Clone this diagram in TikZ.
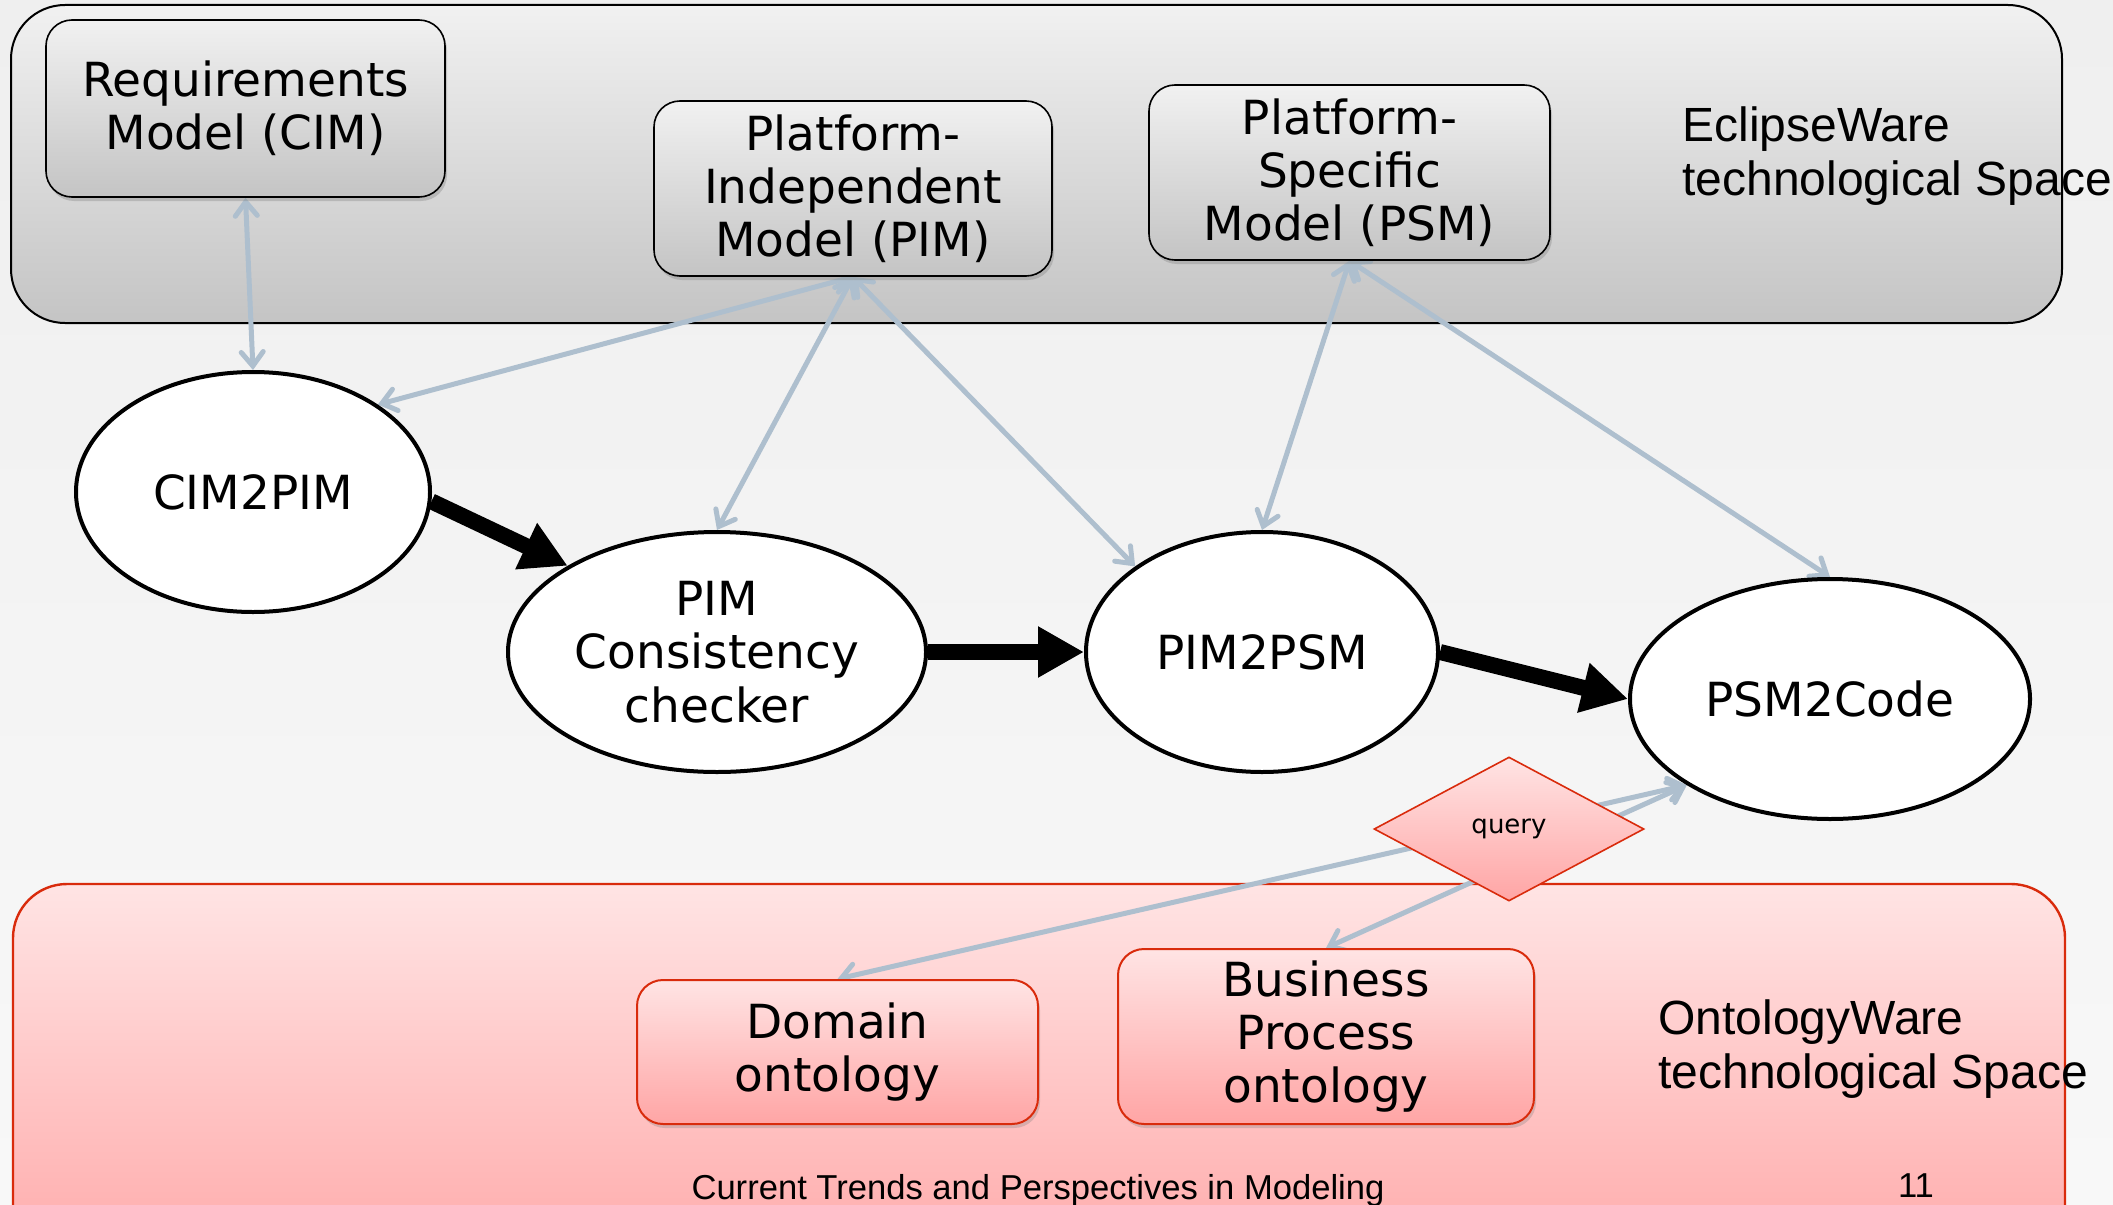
\documentclass[tikz,border=0pt]{standalone}
\usepackage{fontspec}
\setmainfont{DejaVu Sans}
\newfontfamily\arialf{Liberation Sans}
\usetikzlibrary{shapes.geometric,arrows.meta,shadows}
\definecolor{linkc}{HTML}{AEBFCE}
\definecolor{redb}{HTML}{D92B0C}
\definecolor{pinkt}{HTML}{FFE4E4}
\definecolor{pinkb}{HTML}{FFA5A5}
\definecolor{grayt}{HTML}{F1F1F1}
\definecolor{grayb}{HTML}{C4C4C4}
\definecolor{bgt}{HTML}{EFEFEF}
\definecolor{bgb}{HTML}{F8F8F8}
\pgfdeclarelayer{bg}
\pgfdeclarelayer{lines}
\pgfsetlayers{bg,lines,main}
\begin{document}
\begin{tikzpicture}[x=0.5pt,y=-0.5pt,
  nodefont/.style={font=\fontsize{23.5}{26.6}\selectfont, align=center, inner sep=0pt},
  graybox/.style={nodefont, rectangle, rounded corners=13pt, draw=black, line width=0.8pt,
     top color=grayt, bottom color=grayb,
     drop shadow={shadow xshift=1pt, shadow yshift=-2pt, opacity=0.35}},
  redbox/.style={nodefont, rectangle, rounded corners=13pt, draw=redb, line width=1pt,
     top color=pinkt, bottom color=pinkb,
     drop shadow={shadow xshift=1pt, shadow yshift=-2pt, opacity=0.3}},
  proc/.style={nodefont, ellipse, draw=black, line width=2pt, fill=white},
  link/.style={draw=linkc, line width=2.5pt, line cap=round,
     {Straight Barb[length=7pt,width=11pt,line cap=round]}-{Straight Barb[length=7pt,width=11pt,line cap=round]}},
  flow/.style={draw=black, line width=8pt, -{Triangle[length=23pt,width=24pt]}},
  spacelabel/.style={font=\arialf\fontsize{24}{27}\selectfont, align=left, inner sep=0pt, anchor=north west},
  footer/.style={font=\arialf\fontsize{17.3}{20}\selectfont, inner sep=0pt, anchor=base}
]
\useasboundingbox (0,0) rectangle (2113,1204);
\clip (0,0) rectangle (2113,1204);

% nodes
\node[graybox, minimum width=199.5pt, minimum height=88.5pt] (req) at (245.5,108.5) {Requirements\\Model (CIM)};
\node[graybox, minimum width=199pt, minimum height=87.5pt] (pim) at (853,188.5) {Platform-\\Independent\\Model (PIM)};
\node[graybox, minimum width=200.5pt, minimum height=87.5pt] (psm) at (1349.5,172.5) {Platform-\\Specific\\Model (PSM)};

\node[proc, minimum width=177pt, minimum height=120pt] (cim) at (253,492) {CIM2PIM};
\node[proc, minimum width=209pt, minimum height=120pt] (pcc) at (717,652) {PIM\\Consistency\\checker};
\node[proc, minimum width=176pt, minimum height=120pt] (pp) at (1262,652) {PIM2PSM};
\node[proc, minimum width=200pt, minimum height=120pt] (code) at (1830,699) {PSM2Code};

\node[redbox, minimum width=200.5pt, minimum height=72pt] (dom) at (837.5,1052) {Domain\\ontology};
\node[redbox, minimum width=208pt, minimum height=87.5pt] (bus) at (1326,1036.5) {Business\\Process\\ontology};

\node[diamond, draw=redb, line width=0.8pt, top color=pinkt, bottom color=pinkb,
      minimum width=135pt, minimum height=72pt, inner sep=0pt,
      font=\fontsize{13}{15}\selectfont] (query) at (1509,829) {query};

\node[spacelabel] (eclipse) at (1682,106) {EclipseWare\\technological Space};
\node[spacelabel] (onto) at (1658,999) {OntologyWare\\technological Space};

\node[footer] (foot) at (1038,1199) {Current Trends and Perspectives in Modeling};
\node[footer] (pageno) at (1916,1197) {11};

% background and panels
\begin{pgfonlayer}{bg}
  \shade[top color=bgt, bottom color=bgb] (0,0) rectangle (2113,1204);
  \draw[rounded corners=27pt, top color=grayt, bottom color=grayb, line width=1pt, draw=black]
     (11,5) rectangle (2062,323);
  \draw[rounded corners=27pt, top color=pinkt, bottom color=pinkb, line width=1.2pt, draw=redb]
     (13,884) rectangle (2065,1300);
\end{pgfonlayer}

% connectors
\begin{pgfonlayer}{lines}
  \draw[link] (req.south) -- (cim.north);
  \draw[link] (pim.south) -- (cim.35);
  \draw[link] (pim.south) -- (pcc.north);
  \draw[link] (pim.south) -- (pp.146);
  \draw[link] (psm.south) -- (pp.north);
  \draw[link] (psm.south) -- (code.north);
  \draw[link] (code.211) -- (dom.north);
  \draw[link] (code.211) -- (bus.north);
\end{pgfonlayer}

\draw[flow] (cim.-3) -- (pcc.150);
\draw[flow] (pcc.east) -- (pp.west);
\draw[flow] (pp.east) -- (code.west);
\end{tikzpicture}
\end{document}
